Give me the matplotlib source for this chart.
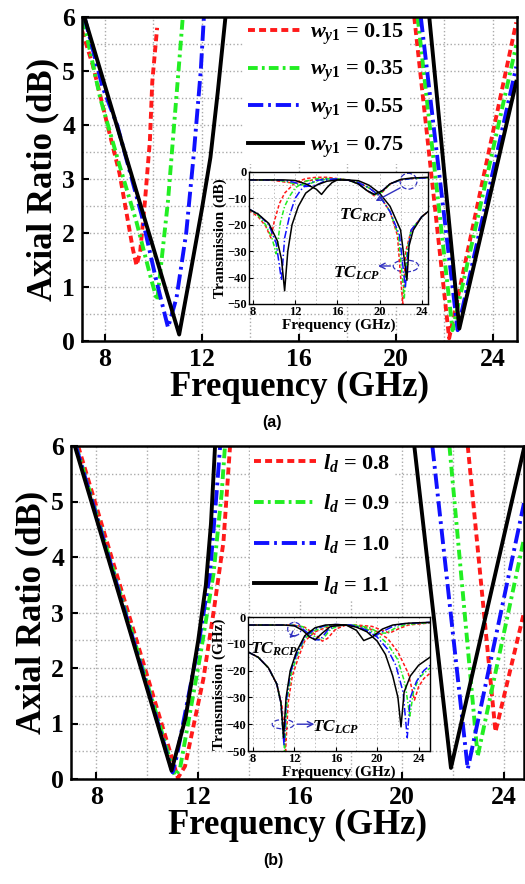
import numpy as np
import matplotlib
matplotlib.use("Agg")
import matplotlib.pyplot as plt
from matplotlib.patches import Ellipse
from matplotlib.ticker import MultipleLocator

plt.rcParams["font.family"] = ["Liberation Serif", "DejaVu Serif"]
plt.rcParams["font.weight"] = "bold"
plt.rcParams["mathtext.fontset"] = "custom"
plt.rcParams["mathtext.rm"] = "Liberation Serif:bold"
plt.rcParams["mathtext.bf"] = "Liberation Serif:bold"
plt.rcParams["mathtext.it"] = "Liberation Serif:italic:bold"
plt.rcParams["lines.scale_dashes"] = False

COLORS = ["#ff1a1a", "#22ee22", "#1010ff", "#000000"]
DASHES = [(5, 3), (7, 3, 2, 3), (11, 3.5, 2, 3.5), None]

# ---------------- panel (a): w_y1 sweep, axial ratio ----------------
A_LABELS = [r"$w_{y\mathit{1}}$ = 0.15", r"$w_{y\mathit{1}}$ = 0.35",
            r"$w_{y\mathit{1}}$ = 0.55", r"$w_{y\mathit{1}}$ = 0.75"]
# lower band
A_F1 = [
    [7.05, 7.5, 8.1, 8.6, 9.15, 9.3, 9.45, 9.65, 9.85, 9.95, 10.15],
    [7.1, 7.8, 8.6, 9.3, 9.9, 10.15, 10.25, 10.6, 10.85, 11.05, 11.2],
    [7.15, 7.9, 8.5, 9.5, 10.1, 10.6, 10.95, 11.35, 11.65, 11.95, 12.08],
    [7.15, 11.06, 11.5, 12.0, 12.35, 12.65, 12.97],
]
A_AR1 = [
    [5.75, 5.1, 4.0, 3.1, 1.7, 1.4, 1.65, 2.6, 3.7, 4.8, 5.8],
    [5.95, 4.5, 3.25, 2.2, 1.15, 0.75, 1.15, 2.6, 4.0, 5.1, 5.95],
    [6.0, 4.7, 4.0, 2.35, 1.15, 0.25, 0.8, 2.0, 3.4, 5.0, 6.0],
    [6.0, 0.12, 1.2, 2.45, 3.4, 4.6, 6.0],
]
# upper band
A_F2 = [
    [20.76, 22.2, 24.97],
    [20.9, 22.34, 24.97],
    [21.03, 22.55, 24.97],
    [21.38, 22.62, 24.97],
]
A_AR2 = [
    [6.0, 0.05, 5.9],
    [6.0, 0.2, 5.48],
    [6.0, 0.2, 5.08],
    [6.0, 0.23, 4.8],
]

# inset (a): transmission, LCP-like curves
IA_F_L = [
    [7.6, 8.5, 9.2, 9.7, 10.0, 10.5, 11, 12, 13, 14, 15, 16, 17, 18, 19, 20, 21, 21.7, 22.2, 22.5, 23, 24, 24.6],
    [7.6, 8.5, 9.2, 9.8, 10.2, 10.6, 11, 11.5, 12, 13, 14, 15, 16, 17, 18, 19, 20, 21, 21.8, 22.35, 22.6, 23, 24, 24.6],
    [7.6, 8.5, 9.5, 10.2, 10.7, 11.0, 11.5, 12, 12.5, 13, 14, 15, 16, 17, 18, 19, 20, 21, 21.9, 22.45, 22.7, 23, 24, 24.6],
    [7.6, 8.5, 9.5, 10.3, 10.7, 11.0, 11.3, 11.7, 12.3, 13, 14, 15, 16, 17, 18, 19, 20, 21, 22, 22.6, 22.8, 23.2, 24, 24.6],
]
IA_T_L = [
    [-14.5, -17, -20.5, -25, -19, -12, -8, -4, -2.5, -2, -2, -2.5, -3, -4, -6, -9, -15, -24, -50, -30, -22, -17, -15],
    [-14, -16.5, -20, -25, -31, -19, -13, -9, -6, -3.5, -2.5, -2.5, -2.7, -3, -4, -6, -9, -15, -24, -48, -30, -22, -17, -15],
    [-14, -16, -20, -27, -41, -25, -16, -10, -7, -5, -3.2, -2.7, -2.8, -3, -4, -6, -9, -15, -24, -44, -30, -22, -17, -15],
    [-14, -16, -19.5, -26, -33, -45, -30, -20, -13, -8, -5, -3.5, -3, -3, -3.3, -5, -8, -13, -22, -41, -28, -22, -17, -15],
]
# inset (a): RCP-like curves
IA_F_R = [
    [7.6, 9, 10, 11, 12, 13, 14, 15, 16, 17, 18, 18.8, 19.5, 20.3, 21, 22, 23, 24.6],
    [7.6, 9, 10, 11, 12, 13, 14, 15, 16, 17, 18, 18.8, 19.5, 20.3, 21, 22, 23, 24.6],
    [7.6, 9, 10, 11, 12, 13, 14, 15, 16, 17, 18, 18.8, 19.5, 20.3, 21, 22, 23, 24.6],
    [7.6, 9, 10, 11, 12, 13, 14, 14.5, 15, 15.5, 16, 17, 18, 18.8, 19.5, 20.3, 21, 22, 23, 24.6],
]
IA_T_R = [
    [-3, -3, -3.2, -3.8, -4.2, -3.5, -2.8, -2.5, -2.6, -3, -4.5, -7, -9, -7.5, -4.5, -3, -2.5, -2.2],
    [-3, -3, -3, -3.5, -4.5, -5, -3.5, -2.7, -2.6, -3, -4.5, -7, -8.8, -7.5, -4.5, -3, -2.5, -2.2],
    [-3, -3, -3, -3.2, -4, -5.5, -5, -3, -2.6, -3, -4.5, -7, -8.5, -7, -4.5, -3, -2.5, -2.2],
    [-3, -3, -3, -3, -3.2, -4.5, -6.5, -8.5, -6, -4, -3, -3, -4.5, -7, -8.5, -7, -4.5, -2.8, -2.3, -2],
]

# ---------------- panel (b): l_d sweep, axial ratio ----------------
B_LABELS = [r"$l_d$ = 0.8", r"$l_d$ = 0.9", r"$l_d$ = 1.0", r"$l_d$ = 1.1"]
B_F1 = [
    [7.28, 11.2, 11.48, 12.2, 12.6, 12.99, 13.25],
    [7.2, 11.08, 11.28, 12.07, 12.6, 12.92, 13.05],
    [7.19, 10.99, 11.15, 12.0, 12.46, 12.72, 12.86],
    [7.15, 10.95, 11.5, 12.0, 12.3, 12.5, 12.66],
]
B_AR1 = [
    [6.0, 0.02, 0.23, 1.8, 3.0, 4.27, 6.0],
    [6.0, 0.06, 0.18, 2.2, 3.7, 5.15, 6.0],
    [6.0, 0.12, 0.4, 2.4, 3.7, 5.15, 6.0],
    [6.0, 0.15, 1.1, 2.5, 3.5, 4.6, 6.0],
]
B_F2 = [
    [22.59, 23.68, 24.8],
    [21.87, 22.98, 24.8],
    [21.2, 22.59, 24.8],
    [20.49, 21.93, 24.8],
]
B_AR2 = [
    [6.0, 0.85, 3.0],
    [6.0, 0.41, 4.33],
    [6.0, 0.18, 4.97],
    [6.0, 0.2, 5.96],
]

IB_F_L = [
    [7.5, 8.5, 9.5, 10.3, 10.8, 11.15, 11.4, 11.8, 12.4, 13, 14, 15, 16, 17, 18, 19, 20, 21, 22, 23, 23.6, 24, 24.5, 25.1],
    [7.5, 8.5, 9.5, 10.3, 10.7, 11.05, 11.3, 11.7, 12.3, 13, 14, 15, 16, 17, 18, 19, 20, 21, 22, 22.7, 23.15, 23.5, 24, 24.5, 25.1],
    [7.5, 8.5, 9.5, 10.3, 10.7, 11.0, 11.2, 11.6, 12.2, 13, 14, 15, 16, 17, 18, 19, 20, 21, 21.8, 22.5, 22.9, 23.2, 23.8, 24.5, 25.1],
    [7.5, 8.5, 9.5, 10.3, 10.7, 10.95, 11.2, 11.6, 12.2, 13, 14, 15, 16, 17, 18, 19, 20, 20.8, 21.5, 22.0, 22.3, 22.6, 23.2, 24, 25.1],
]
IB_T_L = [
    [-13, -15, -19, -25, -33, -50, -32, -22, -15, -9, -5.5, -4, -3.2, -3, -3.2, -4, -5.5, -8, -13, -21, -31, -26, -23, -21],
    [-13, -15, -19, -25, -32, -50, -31, -21, -14, -8, -5, -3.5, -3, -3, -3.3, -4.5, -6.5, -10, -16, -25, -37, -28, -23, -21, -19],
    [-13, -15, -19, -25, -32, -48, -32, -21, -14, -7.5, -4.5, -3.2, -2.8, -3, -3.5, -5, -7.5, -12, -18, -28, -45, -30, -24, -20, -18],
    [-13, -15, -19, -25, -32, -45, -30, -20, -13, -7, -4, -3, -2.8, -3, -3.8, -5.5, -9, -14, -22, -30, -41, -28, -22, -18, -15],
]
IB_F_R = [
    [7.5, 10, 12, 13, 14, 14.7, 15.2, 16, 17, 18, 19.5, 20.5, 21.2, 22, 23, 25.1],
    [7.5, 10, 11.8, 12.8, 13.6, 14.3, 14.8, 15.5, 16.5, 17.8, 19.3, 20.2, 20.9, 21.8, 22.8, 25.1],
    [7.5, 10, 11.5, 12.5, 13.3, 14.0, 14.5, 15.2, 16, 17.5, 19, 19.8, 20.5, 21.5, 22.5, 25.1],
    [7.5, 9, 11, 12, 12.8, 13.5, 14, 14.7, 15.5, 17, 18, 18.7, 19.5, 20.5, 21.5, 23, 25.1],
]
IB_T_R = [
    [-3, -3, -3, -3.8, -6.5, -9, -8, -4.5, -3, -3, -3.5, -5, -6, -4.5, -3, -2.2],
    [-3, -3, -3, -3.6, -6, -8.5, -8, -4.5, -3, -3, -4, -6, -6, -4, -2.8, -2.1],
    [-3, -3, -3, -3.5, -6, -8.5, -8.5, -5, -3, -3, -5, -7, -5.5, -3.5, -2.5, -2],
    [-3, -3, -3, -3.3, -5, -7.5, -8.5, -6, -3.5, -3, -5, -8.8, -7.5, -4.5, -3, -2.3, -2],
]


def style_main(ax, xlim):
    ax.set_xlim(*xlim)
    ax.set_ylim(0, 6)
    ax.xaxis.set_major_locator(MultipleLocator(4))
    ax.xaxis.set_minor_locator(MultipleLocator(2))
    ax.yaxis.set_major_locator(MultipleLocator(1))
    ax.yaxis.set_minor_locator(MultipleLocator(0.5))
    ax.grid(True, which="both", color="#aaaaaa", linestyle=":", linewidth=1.0)
    ax.tick_params(which="major", direction="in", length=5, width=1.5, labelsize=18.5, pad=5)
    ax.tick_params(which="minor", length=0)
    for s in ax.spines.values():
        s.set_linewidth(1.8)
    ax.set_xlabel("Frequency (GHz)", fontsize=25, fontweight="bold", labelpad=0)
    ax.set_ylabel("Axial Ratio (dB)", fontsize=25, fontweight="bold", labelpad=2)


def style_inset(ax, xlim):
    ax.set_xlim(*xlim)
    ax.set_ylim(-50, 0)
    ax.xaxis.set_major_locator(MultipleLocator(4))
    ax.xaxis.set_minor_locator(MultipleLocator(2))
    ax.yaxis.set_major_locator(MultipleLocator(10))
    ax.yaxis.set_minor_locator(MultipleLocator(5))
    ax.grid(True, which="both", color="#bbbbbb", linestyle=":", linewidth=0.7)
    ax.tick_params(which="major", direction="in", length=3, width=0.8, labelsize=9, pad=1.5)
    ax.tick_params(which="minor", length=0)
    for s in ax.spines.values():
        s.set_linewidth(1.0)
    ax.set_xlabel("Frequency (GHz)", fontsize=11, fontweight="bold", labelpad=0)


def draw_main(ax, f1, a1, f2, a2, labels):
    for i in range(4):
        kw = dict(color=COLORS[i], lw=2.8)
        if DASHES[i] is not None:
            kw["dashes"] = DASHES[i]
        ax.plot(f1[i], a1[i], label=labels[i], **kw)
        ax.plot(f2[i], a2[i], **kw)


def draw_inset(ax, fl, tl, fr, tr):
    for i in range(4):
        kw = dict(color=COLORS[i], lw=1.1)
        if DASHES[i] is not None:
            kw["dashes"] = tuple(d * 0.5 for d in DASHES[i])
        ax.plot(fl[i], tl[i], **kw)
        ax.plot(fr[i], tr[i], **kw)


def white_legend(ax, anchor, hlen, spacing):
    leg = ax.legend(loc="upper left", bbox_to_anchor=anchor, fontsize=16,
                    handlelength=hlen, handletextpad=0.3, labelspacing=spacing,
                    borderpad=0.2, frameon=True, fancybox=False)
    fr = leg.get_frame()
    fr.set_edgecolor("none")
    fr.set_facecolor("white")
    fr.set_alpha(1)
    leg.set_zorder(2.2)   # spines stay on top of the white box
    return leg


fig = plt.figure(figsize=(5.25, 8.84), dpi=100)
W, H = 525.0, 884.0
ecol = "#3030c0"

# ---- (a)
axA = fig.add_axes([82 / W, 1 - 341 / H, (517 - 82) / W, (341 - 17) / H])
draw_main(axA, A_F1, A_AR1, A_F2, A_AR2, A_LABELS)
style_main(axA, (7.05, 25.0))
white_legend(axA, (0.345, 1.035), 2.5, 0.55)

insA = fig.add_axes([249 / W, 1 - 304 / H, 179 / W, 132 / H])
draw_inset(insA, IA_F_L, IA_T_L, IA_F_R, IA_T_R)
style_inset(insA, (7.62, 24.6))
insA.set_ylabel("Transmission (dB)", fontsize=11, fontweight="bold", labelpad=0)
insA.add_patch(Ellipse((22.75, -3.5), 1.6, 6, fill=False, ls="--", lw=0.9, ec=ecol))
insA.add_patch(Ellipse((22.5, -35.6), 2.4, 4.5, fill=False, ls="--", lw=0.9, ec=ecol))
insA.annotate("", xy=(19.4, -11.5), xytext=(22.2, -5.5),
              arrowprops=dict(arrowstyle="->", color=ecol, lw=1.0))
insA.annotate("", xy=(19.6, -35.6), xytext=(21.3, -35.6),
              arrowprops=dict(arrowstyle="->", color=ecol, lw=1.0))
insA.text(18.4, -16.5, r"$TC_{RCP}$", fontsize=12.5, ha="center", va="center")
insA.text(17.8, -38.5, r"$TC_{LCP}$", fontsize=12.5, ha="center", va="center")

fig.text(272 / W, 1 - 422 / H, "(a)", ha="center", va="center", fontsize=11.5,
         fontweight="bold", family=["Liberation Sans", "DejaVu Sans"])

# ---- (b)
axB = fig.add_axes([71 / W, 1 - 779 / H, (524 - 71) / W, (779 - 446) / H])
draw_main(axB, B_F1, B_AR1, B_F2, B_AR2, B_LABELS)
style_main(axB, (7.0, 24.8))
white_legend(axB, (0.37, 1.03), 2.8, 0.85)

insB = fig.add_axes([248 / W, 1 - 751 / H, 182 / W, 134 / H])
draw_inset(insB, IB_F_L, IB_T_L, IB_F_R, IB_T_R)
style_inset(insB, (7.52, 25.1))
insB.set_ylabel("Transmission (GHz)", fontsize=11, fontweight="bold", labelpad=0)
insB.add_patch(Ellipse((12.0, -4.5), 1.3, 5, fill=False, ls="--", lw=0.9, ec=ecol))
insB.add_patch(Ellipse((10.9, -40), 2.1, 3.5, fill=False, ls="--", lw=0.9, ec=ecol))
insB.annotate("", xy=(11.3, -8.5), xytext=(11.9, -6.5),
              arrowprops=dict(arrowstyle="->", color=ecol, lw=1.0))
insB.annotate("", xy=(14.2, -40), xytext=(12.0, -40),
              arrowprops=dict(arrowstyle="->", color=ecol, lw=1.0))
insB.text(10.0, -12, r"$TC_{RCP}$", fontsize=12.5, ha="center", va="center")
insB.text(16.0, -41, r"$TC_{LCP}$", fontsize=12.5, ha="center", va="center")

fig.text(273 / W, 1 - 860 / H, "(b)", ha="center", va="center", fontsize=11.5,
         fontweight="bold", family=["Liberation Sans", "DejaVu Sans"])

fig.savefig("out.png", dpi=100, facecolor="white")
